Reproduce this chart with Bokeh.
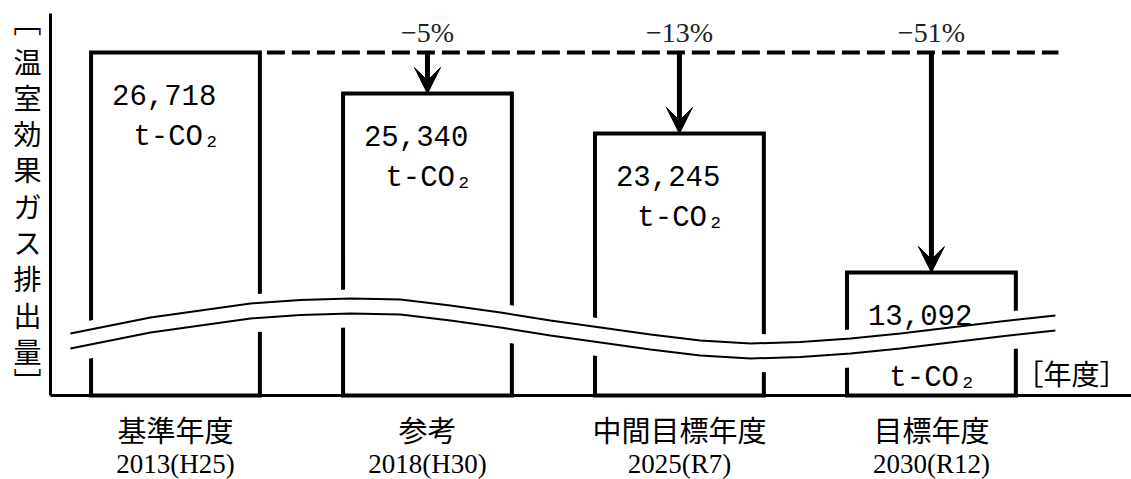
from bokeh.plotting import figure
from bokeh.models import Range1d, ColumnDataSource, Arrow, VeeHead
from bokeh.core.properties import value
from bokeh.embed import file_html
from bokeh.resources import INLINE

# ---------------- data ----------------
categories = ["基準年度", "参考", "中間目標年度", "目標年度"]
fiscal_years = ["2013(H25)", "2018(H30)", "2025(R7)", "2030(R12)"]
emissions = [26718, 25340, 23245, 13092]          # t-CO2
reduction_pct = [None, -5, -13, -51]              # vs. base year
# the value axis is broken, so bars are drawn at schematic heights read off the picture
drawn_heights = [343, 302, 262, 123]
unit_text = "t-CO₂"
y_label_chars = list("温室効果ガス排出量")
y_label_brackets = ["﹇", "﹈"]
x_unit_label = "［年度］"

# decorative axis-break wave (x in category units, y in drawn units)
break_x = [-0.417, -0.218, -0.099, 0.099, 0.298, 0.496, 0.694, 0.893, 1.091, 1.290,
           1.488, 1.687, 1.885, 2.083, 2.282, 2.480, 2.679, 2.877, 3.075, 3.274, 3.492]
break_y = [62, 72, 78, 85, 92, 95.5, 97, 96, 90, 83,
           75, 68, 61, 55, 52, 53.5, 57, 62, 68, 74, 80]

# ---------------- layout constants ----------------
FONT_JP = value("Noto Sans CJK JP")
FONT_NUM = value("Liberation Mono")
FONT_SERIF = value("Liberation Serif")
BAR_W = 0.67
BAND_GAP = 15          # distance between the two wave lines
AXIS_X = -0.496        # where the value axis sits
X_END = 3.794
TOP_Y = 382

n = len(categories)
xs = list(range(n))

p = figure(width=1131, height=479, output_backend="svg", toolbar_location=None,
           x_range=Range1d(-0.6944, X_END), y_range=Range1d(-84, 395),
           x_axis_type=None, y_axis_type=None, min_border=0)
p.outline_line_color = None
p.background_fill_color = "white"

# bars (white, black outline)
p.vbar(x=xs, top=drawn_heights, width=BAR_W, bottom=0, fill_color="white",
       line_color="black", line_width=4, line_join="miter")

# dashed reference line at base-year level
base = drawn_heights[0]
p.line(x=[BAR_W / 2, 3.504], y=[base, base], line_color="black", line_width=4,
       line_dash="18 7", line_dash_offset=18)

# axis break: white band then the two wave lines
upper = break_y
lower = [v - BAND_GAP for v in break_y]
p.varea(x=break_x, y1=[v - 14 for v in lower], y2=[v + 9 for v in upper], fill_color="white")
p.line(x=break_x, y=upper, line_color="black", line_width=2)
p.line(x=break_x, y=lower, line_color="black", line_width=2)

# axis lines
p.line(x=[AXIS_X, AXIS_X], y=[0, TOP_Y], line_color="black", line_width=3)
p.line(x=[AXIS_X, X_END], y=[0, 0], line_color="black", line_width=3)

# arrows from the base-year level down to each later bar
arrow_src = ColumnDataSource(dict(
    x=xs[1:], y0=[base] * (n - 1), y1=drawn_heights[1:]))
p.add_layout(Arrow(end=VeeHead(size=26, fill_color="black", line_color="black", line_width=1),
                   source=arrow_src, x_start="x", y_start="y0", x_end="x", y_end="y1",
                   line_color="black", line_width=5))

# percent labels
p.text(x=xs[1:], y=[base + 20] * (n - 1),
       text=[f"−{abs(v)}%" for v in reduction_pct[1:]],
       text_font=FONT_SERIF, text_font_size="28px", text_color="#222",
       text_align="center", text_baseline="alphabetic")

# value labels inside the bars
num_x = [x - BAR_W / 2 + 0.083 for x in xs]
p.text(x=num_x, y=[h - 42 for h in drawn_heights],
       text=[f"{v:,}" for v in emissions],
       text_font=FONT_NUM, text_font_size="29px", text_color="black",
       text_align="left", text_baseline="alphabetic")
unit_y = [h - 85 if h > 200 else 17 for h in drawn_heights]
unit_x = [x - BAR_W / 2 + 0.168 for x in xs]
p.text(x=unit_x, y=unit_y, text=[unit_text] * n,
       text_font=FONT_NUM, text_font_size="29px", text_color="black",
       text_align="left", text_baseline="alphabetic")

# category labels
p.text(x=xs, y=[-33] * n, text=categories, text_font=FONT_JP, text_font_size="29px",
       text_color="black", text_align="center", text_baseline="middle")
p.text(x=xs, y=[-68] * n, text=fiscal_years, text_font=FONT_SERIF, text_font_size="27px",
       text_color="black", text_align="center", text_baseline="middle")

# x unit label
p.text(x=[3.556], y=[23], text=[x_unit_label], text_font=FONT_JP, text_font_size="28px",
       text_color="black", text_align="center", text_baseline="middle")

# vertical y-axis label: one upright character per line, vertical-form brackets at the ends
LABEL_X = -0.587
label_text = [y_label_brackets[0]] + y_label_chars + [y_label_brackets[1]]
label_y = [375] + [335 - 36.3 * i for i in range(len(y_label_chars))] + [15]
p.text(x=[LABEL_X] * len(label_text), y=label_y, text=label_text,
       text_font=FONT_JP, text_font_size="28px", text_color="black",
       text_align="center", text_baseline="middle")

open("out.html", "w").write(file_html(p, INLINE))
